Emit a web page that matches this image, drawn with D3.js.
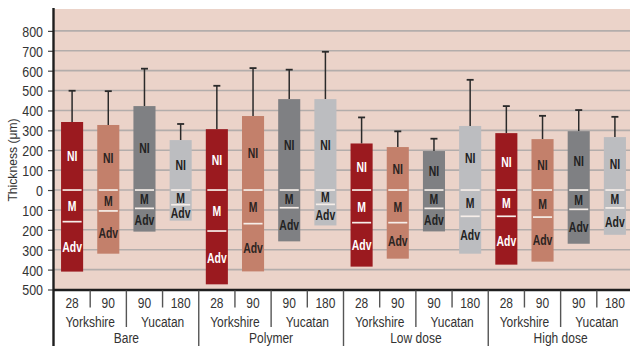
<!DOCTYPE html>
<html>
<head>
<meta charset="utf-8">
<script src="https://cdn.jsdelivr.net/npm/d3@7"></script>
<style>
  html, body { margin: 0; padding: 0; background: #ffffff; }
  svg { display: block; }
  text { font-family: "Liberation Sans", Arial, sans-serif; }
</style>
</head>
<body>
<svg id="chart" width="630" height="346"></svg>
<script>
// Coating thickness by treatment, breed and day
const treatments = ["Bare", "Polymer", "Low dose", "High dose"];
const breeds = ["Yorkshire", "Yucatan"];
const daysByBreed = { "Yorkshire": ["28", "90"], "Yucatan": ["90", "180"] };

// Per bar, in order: Bare (Y28, Y90, Yu90, Yu180), Polymer (...), Low dose (...), High dose (...)
const niThickness  = [342, 327, 422, 251, 306, 372, 457, 457, 234, 216, 196, 322, 286, 256, 296, 266];
const niErrorTop   = [499, 497, 610, 332, 524, 613, 605, 695, 365, 295, 258, 554, 422, 373, 402, 368];
const mDepth       = [159, 105,  92,  74, 206, 169,  89,  72, 164, 164,  92, 132, 132, 136,  97,  90];
const advDepth     = [410, 320, 209, 154, 474, 409, 258, 178, 385, 345, 208, 320, 375, 360, 270, 225];

const yTicks = [-500, -400, -300, -200, -100, 0, 100, 200, 300, 400, 500, 600, 700, 800];
const barColors = ["#9b1a1f", "#c3806b", "#7f8083", "#bcbdc0"];
const labelColors = ["#ffffff", "#2b2422", "#222222", "#222222"];

const bars = [];
treatments.forEach(t => breeds.forEach(b => daysByBreed[b].forEach(d => bars.push({ treatment: t, breed: b, day: d }))));
bars.forEach((bar, i) => {
  bar.key = i;
  bar.ni = niThickness[i];
  bar.err = niErrorTop[i];
  bar.m = mDepth[i];
  bar.adv = advDepth[i];
  bar.slot = i % 4;
});

const svg = d3.select("#chart");
const W = 630, H = 346;
const plotLeft = 54, plotRight = 633, plotTop = 9, plotBottom = 289.5;
const NARROW = 0.8;   // horizontal squeeze for a condensed look

// condensed text helper
function ctext(parent, x, y, str, opts = {}) {
  const t = parent.append("text")
    .attr("transform", `translate(${x},${y}) scale(${opts.sx || NARROW},1)`)
    .attr("text-anchor", opts.anchor || "middle")
    .attr("font-size", opts.size || 15)
    .attr("fill", opts.fill || "#333")
    .text(str);
  if (opts.weight) t.attr("font-weight", opts.weight);
  if (opts.dy) t.attr("dy", opts.dy);
  return t;
}

const x = d3.scaleBand()
  .domain(bars.map(d => d.key))
  .range([plotLeft, plotRight])
  .paddingInner(0.39)
  .paddingOuter(0.195);

const y = d3.scaleLinear().domain([-500, 910]).range([plotBottom, plotTop]);

// background panel
svg.append("rect")
  .attr("x", plotLeft).attr("y", plotTop)
  .attr("width", W - plotLeft).attr("height", plotBottom - plotTop)
  .attr("fill", "#ebd3c9");

// horizontal grid
svg.append("g")
  .selectAll("line")
  .data(yTicks.filter(v => v > -500))
  .join("line")
  .attr("x1", plotLeft).attr("x2", W)
  .attr("y1", d => y(d)).attr("y2", d => y(d))
  .attr("stroke", "#b3adab")
  .attr("stroke-width", 1.6);

// y axis (values below zero are depths, shown unsigned)
const yAxis = d3.axisLeft(y)
  .tickValues(yTicks)
  .tickFormat(d => Math.abs(d))
  .tickSize(6);
const gy = svg.append("g").attr("transform", `translate(${plotLeft},0)`).call(yAxis);
gy.select(".domain").remove();
gy.selectAll(".tick line").attr("stroke", "#444").attr("stroke-width", 1.2);
gy.selectAll(".tick text")
  .attr("font-size", 15).attr("fill", "#333").attr("dy", "0.36em")
  .attr("font-family", "\"Liberation Sans\", Arial, sans-serif")
  .attr("x", -11 / 0.83)
  .attr("transform", "scale(0.83,1)");

svg.append("text")
  .attr("transform", `translate(17,160) rotate(-90) scale(0.95,1)`)
  .attr("text-anchor", "middle")
  .attr("font-size", 12.8)
  .attr("fill", "#333")
  .text("Thickness (μm)");

// error bars (upper whisker on NI)
const eb = svg.append("g");
bars.forEach(d => {
  const cx = x(d.key) + x.bandwidth() / 2;
  eb.append("line").attr("x1", cx).attr("x2", cx).attr("y1", y(d.ni)).attr("y2", y(d.err))
    .attr("stroke", "#2a2a2a").attr("stroke-width", 1.5);
  eb.append("line").attr("x1", cx - 3.5).attr("x2", cx + 3.5).attr("y1", y(d.err)).attr("y2", y(d.err))
    .attr("stroke", "#2a2a2a").attr("stroke-width", 1.8);
});

// bars: from NI top down to Adv bottom
const gb = svg.append("g");
gb.selectAll("rect")
  .data(bars)
  .join("rect")
  .attr("x", d => x(d.key))
  .attr("width", x.bandwidth())
  .attr("y", d => y(d.ni))
  .attr("height", d => y(-d.adv) - y(d.ni))
  .attr("fill", d => barColors[d.slot]);

// white dividers at 0 and at the M/Adv boundary
bars.forEach(d => {
  [0, -d.m].forEach(v => {
    gb.append("line")
      .attr("x1", x(d.key) + 1.5).attr("x2", x(d.key) + x.bandwidth() - 1.5)
      .attr("y1", y(v)).attr("y2", y(v))
      .attr("stroke", "#f6eee9").attr("stroke-width", 1.7);
  });
});

// layer labels
bars.forEach(d => {
  const cx = x(d.key) + x.bandwidth() / 2;
  const items = [
    ["NI", (y(d.ni) + y(0)) / 2],
    ["M", (y(0) + y(-d.m)) / 2],
    ["Adv", (y(-d.m) + y(-d.adv)) / 2]
  ];
  items.forEach(([t, cy]) => {
    ctext(gb, cx, cy, t, { size: 14.5, weight: "bold", fill: labelColors[d.slot], dy: "0.36em", sx: 0.72 });
  });
});

// axes lines
svg.append("line").attr("x1", plotLeft - 0.5).attr("x2", W).attr("y1", plotBottom + 0.5).attr("y2", plotBottom + 0.5)
  .attr("stroke", "#1e1e1e").attr("stroke-width", 2.6);
svg.append("line").attr("x1", plotLeft - 0.5).attr("x2", plotLeft - 0.5).attr("y1", plotTop - 1).attr("y2", H)
  .attr("stroke", "#1e1e1e").attr("stroke-width", 2.4);

// hierarchical category axis
const gx = svg.append("g");
const sepColor = "#555";
const step = x.step();
const edge = i => plotLeft + step * i;

// day labels and separators
bars.forEach((d, i) => {
  ctext(gx, edge(i) + step / 2, 308, d.day, { size: 15 });
  if (i > 0) {
    const level = i % 4 === 0 ? 3 : (i % 2 === 0 ? 2 : 1);
    const yEnd = level === 3 ? H : (level === 2 ? 327 : 307.5);
    gx.append("line")
      .attr("x1", edge(i)).attr("x2", edge(i))
      .attr("y1", plotBottom + 1).attr("y2", yEnd)
      .attr("stroke", sepColor).attr("stroke-width", 1.4);
  }
});

// breed labels
for (let g = 0; g < bars.length / 2; g++) {
  ctext(gx, edge(g * 2) + step, 326.5, bars[g * 2].breed, { size: 15 });
}

// treatment labels
treatments.forEach((t, k) => {
  ctext(gx, edge(k * 4) + step * 2, 342.5, t, { size: 15 });
});
</script>
</body>
</html>
